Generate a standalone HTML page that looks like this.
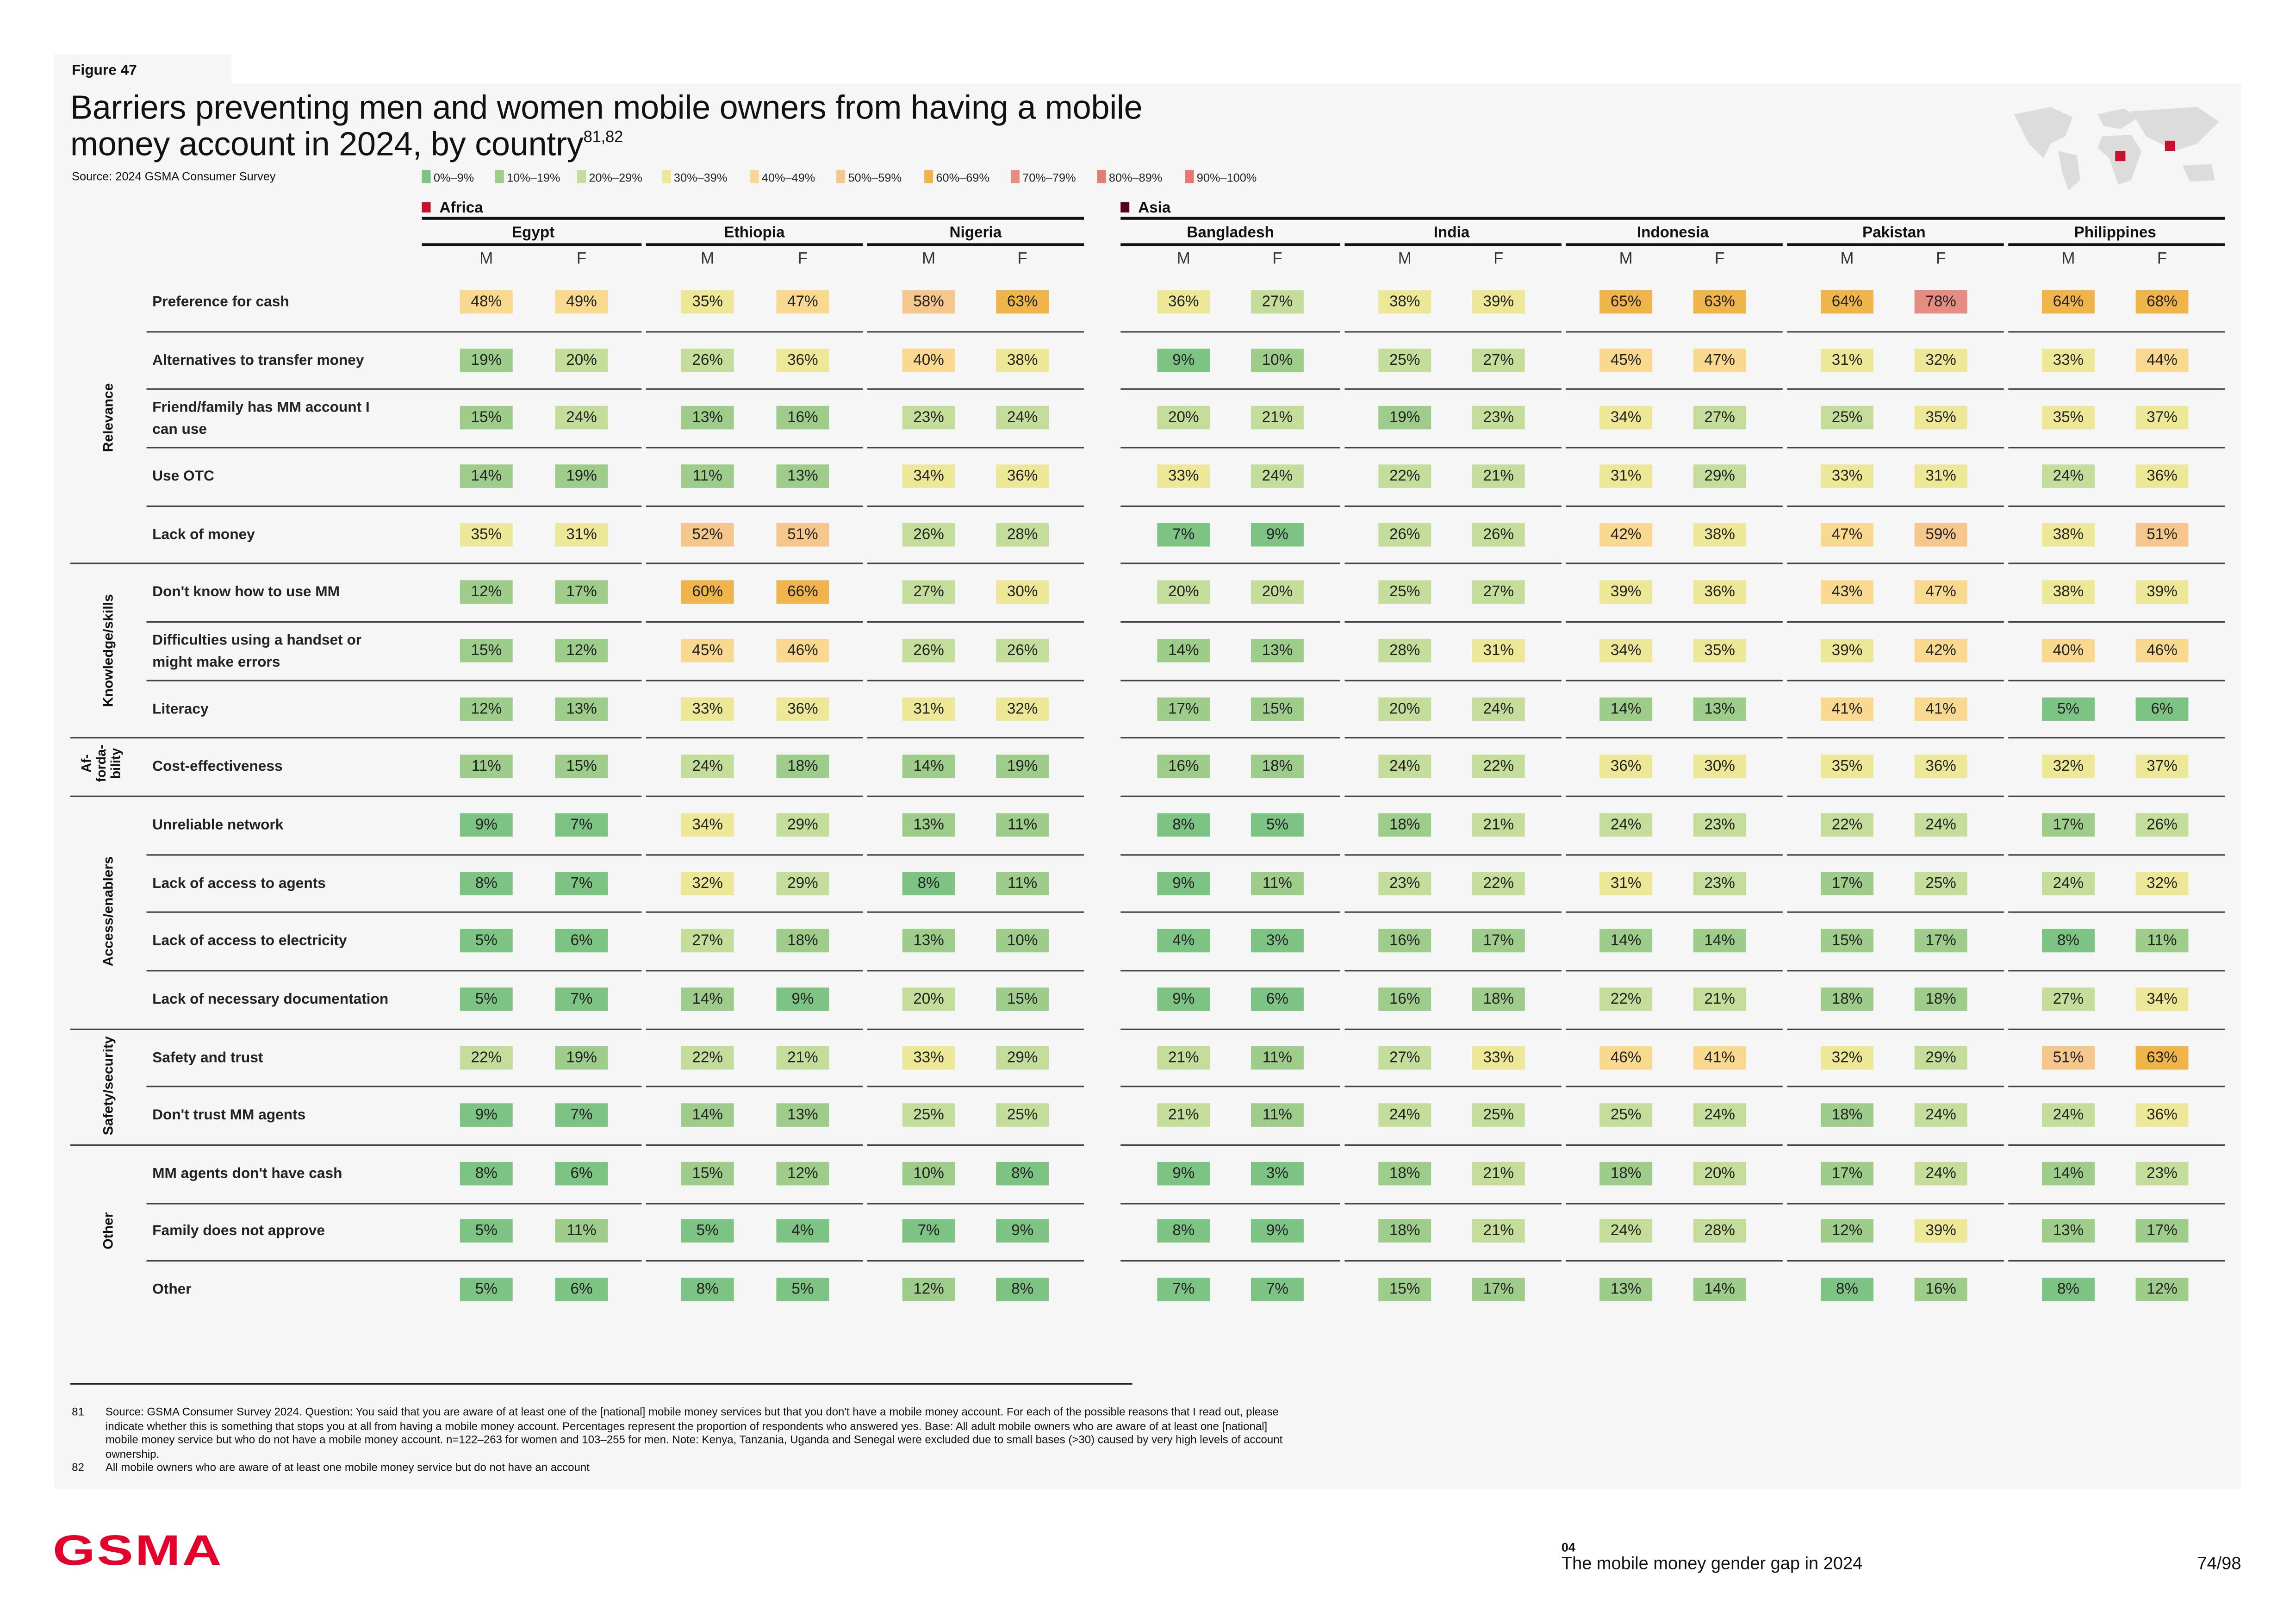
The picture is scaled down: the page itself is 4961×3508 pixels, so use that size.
<!DOCTYPE html>
<html><head><meta charset="utf-8"><style>
html,body{margin:0;padding:0;background:#fff;width:4961px;height:3508px;overflow:hidden}
#w{position:absolute;left:0;top:0;width:1559px;height:1102px;transform:scale(3.165,3.165);transform-origin:0 0;font-family:"Liberation Sans",sans-serif;color:#111}
.a{position:absolute}
.panel{position:absolute;left:37px;top:57px;width:1493px;height:959px;background:#f6f6f6}
.tab{position:absolute;left:37px;top:37px;width:121px;height:21px;background:#f6f6f6}
.r{position:absolute;left:0;width:1559px;height:0}
.r i{position:absolute;width:36px;height:16px;top:-8px;font-style:normal;font-size:10.5px;line-height:16px;text-align:center;color:#222}
.r b{position:absolute;left:104px;top:-7px;font-size:10px;font-weight:bold;color:#222;line-height:15px;white-space:nowrap}
.r b.t{top:-14px}
.k0{left:314px}.k1{left:379px}.k2{left:465px}.k3{left:530px}.k4{left:616px}.k5{left:680px}
.k6{left:790px}.k7{left:854px}.k8{left:941px}.k9{left:1005px}.k10{left:1092px}.k11{left:1156px}
.k12{left:1243px}.k13{left:1307px}.k14{left:1394px}.k15{left:1458px}
.b0{background:#7dc384}.b1{background:#9dcc8b}.b2{background:#c4dd9b}.b3{background:#ece897}
.b4{background:#f8d98f}.b5{background:#f5c78c}.b6{background:#efb54a}.b7{background:#e48d80}
.ln{position:absolute;height:1px;background:#444}
.gap{position:absolute;top:186px;height:720px;background:#f6f6f6}
.cat{position:absolute;font-size:9.5px;font-weight:bold;transform:rotate(-90deg);transform-origin:center;white-space:nowrap;text-align:center;width:140px;height:12px;line-height:12px}
.cn{position:absolute;top:153px;font-size:10.5px;font-weight:bold;text-align:center;width:150px}
.mf{position:absolute;top:171px;font-size:11px;width:20px;text-align:center;color:#333}
.lg{position:absolute;top:116px;font-size:8px;color:#222}
.lg s{display:inline-block;width:6px;height:9px;vertical-align:-1px;margin-right:2px;text-decoration:none}
</style></head><body><div id="w">
<div class="tab"></div><div class="panel"></div>
<div class="a" style="left:49px;top:43px;font-size:10px;font-weight:bold">Figure 47</div>
<div class="a" style="left:48px;top:61px;font-size:22.8px;line-height:25px;letter-spacing:-0.1px;width:820px">Barriers preventing men and women mobile owners from having a mobile<br>money account in 2024, by country<sup style="font-size:11px;line-height:0;vertical-align:9px">81,82</sup></div>
<div class="a" style="left:49px;top:116px;font-size:8px">Source: 2024 GSMA Consumer Survey</div>
<div class="lg" style="left:288px"><s class="b0"></s>0%–9%</div>
<div class="lg" style="left:338px"><s class="b1"></s>10%–19%</div>
<div class="lg" style="left:394px"><s class="b2"></s>20%–29%</div>
<div class="lg" style="left:452px"><s class="b3"></s>30%–39%</div>
<div class="lg" style="left:512px"><s class="b4"></s>40%–49%</div>
<div class="lg" style="left:571px"><s class="b5"></s>50%–59%</div>
<div class="lg" style="left:631px"><s class="b6"></s>60%–69%</div>
<div class="lg" style="left:690px"><s class="b7"></s>70%–79%</div>
<div class="lg" style="left:749px"><s style="background:#e07f77"></s>80%–89%</div>
<div class="lg" style="left:809px"><s style="background:#e8776f"></s>90%–100%</div>
<svg class="a" style="left:1370px;top:68px" width="150" height="65" viewBox="0 0 150 65">
<g fill="#dcdcdc"><path d="M5 10 L30 5 L45 12 L40 25 L30 30 L25 40 L15 30 Z"/><path d="M35 35 L48 38 L50 55 L42 62 L38 50 Z"/><path d="M62 10 L80 6 L90 12 L78 20 L66 18 Z"/><path d="M65 25 L85 24 L92 35 L85 55 L76 58 L70 40 L62 33 Z"/><path d="M85 8 L130 5 L145 15 L130 30 L115 35 L105 30 L95 25 Z"/><path d="M120 45 L140 44 L142 55 L125 56 Z"/></g>
<rect x="74" y="35" width="7" height="7" fill="#c8102e"/><rect x="108" y="28" width="7" height="7" fill="#c8102e"/>
</svg>
<div class="a" style="left:288px;top:136px;font-size:10.5px;font-weight:bold"><span style="display:inline-block;width:6px;height:7px;background:#c8102e;margin-right:6px"></span>Africa</div>
<div class="a" style="left:765px;top:136px;font-size:10.5px;font-weight:bold"><span style="display:inline-block;width:6px;height:7px;background:#5a0016;margin-right:6px"></span>Asia</div>
<div class="ln" style="left:288px;top:148px;width:452px;height:2px;background:#111"></div>
<div class="ln" style="left:765px;top:148px;width:754px;height:2px;background:#111"></div>
<div class="cn" style="left:289px">Egypt</div><div class="cn" style="left:440px">Ethiopia</div><div class="cn" style="left:591px">Nigeria</div>
<div class="cn" style="left:765px">Bangladesh</div><div class="cn" style="left:916px">India</div><div class="cn" style="left:1067px">Indonesia</div><div class="cn" style="left:1218px">Pakistan</div><div class="cn" style="left:1369px">Philippines</div>
<div class="ln" style="left:288px;top:166px;width:150px;height:1.5px;background:#111"></div>
<div class="ln" style="left:441px;top:166px;width:148px;height:1.5px;background:#111"></div>
<div class="ln" style="left:592px;top:166px;width:148px;height:1.5px;background:#111"></div>
<div class="ln" style="left:765px;top:166px;width:150px;height:1.5px;background:#111"></div>
<div class="ln" style="left:918px;top:166px;width:148px;height:1.5px;background:#111"></div>
<div class="ln" style="left:1069px;top:166px;width:148px;height:1.5px;background:#111"></div>
<div class="ln" style="left:1220px;top:166px;width:148px;height:1.5px;background:#111"></div>
<div class="ln" style="left:1371px;top:166px;width:148px;height:1.5px;background:#111"></div>
<div class="mf" style="left:322px">M</div><div class="mf" style="left:387px">F</div><div class="mf" style="left:473px">M</div><div class="mf" style="left:538px">F</div><div class="mf" style="left:624px">M</div><div class="mf" style="left:688px">F</div>
<div class="mf" style="left:798px">M</div><div class="mf" style="left:862px">F</div><div class="mf" style="left:949px">M</div><div class="mf" style="left:1013px">F</div><div class="mf" style="left:1100px">M</div><div class="mf" style="left:1164px">F</div><div class="mf" style="left:1251px">M</div><div class="mf" style="left:1315px">F</div><div class="mf" style="left:1402px">M</div><div class="mf" style="left:1466px">F</div>
<div class="ln" style="left:100px;top:226px;width:1419px"></div>
<div class="ln" style="left:100px;top:265px;width:1419px"></div>
<div class="ln" style="left:100px;top:305px;width:1419px"></div>
<div class="ln" style="left:100px;top:345px;width:1419px"></div>
<div class="ln" style="left:48px;top:384px;width:1471px"></div>
<div class="ln" style="left:100px;top:424px;width:1419px"></div>
<div class="ln" style="left:100px;top:464px;width:1419px"></div>
<div class="ln" style="left:48px;top:503px;width:1471px"></div>
<div class="ln" style="left:48px;top:543px;width:1471px"></div>
<div class="ln" style="left:100px;top:583px;width:1419px"></div>
<div class="ln" style="left:100px;top:622px;width:1419px"></div>
<div class="ln" style="left:100px;top:662px;width:1419px"></div>
<div class="ln" style="left:48px;top:702px;width:1471px"></div>
<div class="ln" style="left:100px;top:741px;width:1419px"></div>
<div class="ln" style="left:48px;top:781px;width:1471px"></div>
<div class="ln" style="left:100px;top:821px;width:1419px"></div>
<div class="ln" style="left:100px;top:860px;width:1419px"></div>
<div class="gap" style="left:438px;width:3px"></div><div class="gap" style="left:589px;width:3px"></div><div class="gap" style="left:740px;width:25px"></div><div class="gap" style="left:915px;width:3px"></div><div class="gap" style="left:1066px;width:3px"></div><div class="gap" style="left:1217px;width:3px"></div><div class="gap" style="left:1368px;width:3px"></div>
<div class="cat" style="left:5px;top:279px">Relevance</div>
<div class="cat" style="left:5px;top:438px">Knowledge/skills</div>
<div class="a" style="left:52px;top:506px;font-size:9px;font-weight:bold;line-height:10px;transform:rotate(-90deg);transform-origin:center;width:34px;text-align:center">Af-<br>forda-<br>bility</div>
<div class="cat" style="left:5px;top:616px">Access/enablers</div>
<div class="cat" style="left:5px;top:735px">Safety/security</div>
<div class="cat" style="left:5px;top:834px">Other</div>
<div class="r" style="top:206px"><b>Preference for cash</b><i class="k0 b4">48%</i><i class="k1 b4">49%</i><i class="k2 b3">35%</i><i class="k3 b4">47%</i><i class="k4 b5">58%</i><i class="k5 b6">63%</i><i class="k6 b3">36%</i><i class="k7 b2">27%</i><i class="k8 b3">38%</i><i class="k9 b3">39%</i><i class="k10 b6">65%</i><i class="k11 b6">63%</i><i class="k12 b6">64%</i><i class="k13 b7">78%</i><i class="k14 b6">64%</i><i class="k15 b6">68%</i></div>
<div class="r" style="top:246px"><b>Alternatives to transfer money</b><i class="k0 b1">19%</i><i class="k1 b2">20%</i><i class="k2 b2">26%</i><i class="k3 b3">36%</i><i class="k4 b4">40%</i><i class="k5 b3">38%</i><i class="k6 b0">9%</i><i class="k7 b1">10%</i><i class="k8 b2">25%</i><i class="k9 b2">27%</i><i class="k10 b4">45%</i><i class="k11 b4">47%</i><i class="k12 b3">31%</i><i class="k13 b3">32%</i><i class="k14 b3">33%</i><i class="k15 b4">44%</i></div>
<div class="r" style="top:285px"><b class="t">Friend/family has MM account I<br>can use</b><i class="k0 b1">15%</i><i class="k1 b2">24%</i><i class="k2 b1">13%</i><i class="k3 b1">16%</i><i class="k4 b2">23%</i><i class="k5 b2">24%</i><i class="k6 b2">20%</i><i class="k7 b2">21%</i><i class="k8 b1">19%</i><i class="k9 b2">23%</i><i class="k10 b3">34%</i><i class="k11 b2">27%</i><i class="k12 b2">25%</i><i class="k13 b3">35%</i><i class="k14 b3">35%</i><i class="k15 b3">37%</i></div>
<div class="r" style="top:325px"><b>Use OTC</b><i class="k0 b1">14%</i><i class="k1 b1">19%</i><i class="k2 b1">11%</i><i class="k3 b1">13%</i><i class="k4 b3">34%</i><i class="k5 b3">36%</i><i class="k6 b3">33%</i><i class="k7 b2">24%</i><i class="k8 b2">22%</i><i class="k9 b2">21%</i><i class="k10 b3">31%</i><i class="k11 b2">29%</i><i class="k12 b3">33%</i><i class="k13 b3">31%</i><i class="k14 b2">24%</i><i class="k15 b3">36%</i></div>
<div class="r" style="top:365px"><b>Lack of money</b><i class="k0 b3">35%</i><i class="k1 b3">31%</i><i class="k2 b5">52%</i><i class="k3 b5">51%</i><i class="k4 b2">26%</i><i class="k5 b2">28%</i><i class="k6 b0">7%</i><i class="k7 b0">9%</i><i class="k8 b2">26%</i><i class="k9 b2">26%</i><i class="k10 b4">42%</i><i class="k11 b3">38%</i><i class="k12 b4">47%</i><i class="k13 b5">59%</i><i class="k14 b3">38%</i><i class="k15 b5">51%</i></div>
<div class="r" style="top:404px"><b>Don't know how to use MM</b><i class="k0 b1">12%</i><i class="k1 b1">17%</i><i class="k2 b6">60%</i><i class="k3 b6">66%</i><i class="k4 b2">27%</i><i class="k5 b3">30%</i><i class="k6 b2">20%</i><i class="k7 b2">20%</i><i class="k8 b2">25%</i><i class="k9 b2">27%</i><i class="k10 b3">39%</i><i class="k11 b3">36%</i><i class="k12 b4">43%</i><i class="k13 b4">47%</i><i class="k14 b3">38%</i><i class="k15 b3">39%</i></div>
<div class="r" style="top:444px"><b class="t">Difficulties using a handset or<br>might make errors</b><i class="k0 b1">15%</i><i class="k1 b1">12%</i><i class="k2 b4">45%</i><i class="k3 b4">46%</i><i class="k4 b2">26%</i><i class="k5 b2">26%</i><i class="k6 b1">14%</i><i class="k7 b1">13%</i><i class="k8 b2">28%</i><i class="k9 b3">31%</i><i class="k10 b3">34%</i><i class="k11 b3">35%</i><i class="k12 b3">39%</i><i class="k13 b4">42%</i><i class="k14 b4">40%</i><i class="k15 b4">46%</i></div>
<div class="r" style="top:484px"><b>Literacy</b><i class="k0 b1">12%</i><i class="k1 b1">13%</i><i class="k2 b3">33%</i><i class="k3 b3">36%</i><i class="k4 b3">31%</i><i class="k5 b3">32%</i><i class="k6 b1">17%</i><i class="k7 b1">15%</i><i class="k8 b2">20%</i><i class="k9 b2">24%</i><i class="k10 b1">14%</i><i class="k11 b1">13%</i><i class="k12 b4">41%</i><i class="k13 b4">41%</i><i class="k14 b0">5%</i><i class="k15 b0">6%</i></div>
<div class="r" style="top:523px"><b>Cost-effectiveness</b><i class="k0 b1">11%</i><i class="k1 b1">15%</i><i class="k2 b2">24%</i><i class="k3 b1">18%</i><i class="k4 b1">14%</i><i class="k5 b1">19%</i><i class="k6 b1">16%</i><i class="k7 b1">18%</i><i class="k8 b2">24%</i><i class="k9 b2">22%</i><i class="k10 b3">36%</i><i class="k11 b3">30%</i><i class="k12 b3">35%</i><i class="k13 b3">36%</i><i class="k14 b3">32%</i><i class="k15 b3">37%</i></div>
<div class="r" style="top:563px"><b>Unreliable network</b><i class="k0 b0">9%</i><i class="k1 b0">7%</i><i class="k2 b3">34%</i><i class="k3 b2">29%</i><i class="k4 b1">13%</i><i class="k5 b1">11%</i><i class="k6 b0">8%</i><i class="k7 b0">5%</i><i class="k8 b1">18%</i><i class="k9 b2">21%</i><i class="k10 b2">24%</i><i class="k11 b2">23%</i><i class="k12 b2">22%</i><i class="k13 b2">24%</i><i class="k14 b1">17%</i><i class="k15 b2">26%</i></div>
<div class="r" style="top:603px"><b>Lack of access to agents</b><i class="k0 b0">8%</i><i class="k1 b0">7%</i><i class="k2 b3">32%</i><i class="k3 b2">29%</i><i class="k4 b0">8%</i><i class="k5 b1">11%</i><i class="k6 b0">9%</i><i class="k7 b1">11%</i><i class="k8 b2">23%</i><i class="k9 b2">22%</i><i class="k10 b3">31%</i><i class="k11 b2">23%</i><i class="k12 b1">17%</i><i class="k13 b2">25%</i><i class="k14 b2">24%</i><i class="k15 b3">32%</i></div>
<div class="r" style="top:642px"><b>Lack of access to electricity</b><i class="k0 b0">5%</i><i class="k1 b0">6%</i><i class="k2 b2">27%</i><i class="k3 b1">18%</i><i class="k4 b1">13%</i><i class="k5 b1">10%</i><i class="k6 b0">4%</i><i class="k7 b0">3%</i><i class="k8 b1">16%</i><i class="k9 b1">17%</i><i class="k10 b1">14%</i><i class="k11 b1">14%</i><i class="k12 b1">15%</i><i class="k13 b1">17%</i><i class="k14 b0">8%</i><i class="k15 b1">11%</i></div>
<div class="r" style="top:682px"><b>Lack of necessary documentation</b><i class="k0 b0">5%</i><i class="k1 b0">7%</i><i class="k2 b1">14%</i><i class="k3 b0">9%</i><i class="k4 b2">20%</i><i class="k5 b1">15%</i><i class="k6 b0">9%</i><i class="k7 b0">6%</i><i class="k8 b1">16%</i><i class="k9 b1">18%</i><i class="k10 b2">22%</i><i class="k11 b2">21%</i><i class="k12 b1">18%</i><i class="k13 b1">18%</i><i class="k14 b2">27%</i><i class="k15 b3">34%</i></div>
<div class="r" style="top:722px"><b>Safety and trust</b><i class="k0 b2">22%</i><i class="k1 b1">19%</i><i class="k2 b2">22%</i><i class="k3 b2">21%</i><i class="k4 b3">33%</i><i class="k5 b2">29%</i><i class="k6 b2">21%</i><i class="k7 b1">11%</i><i class="k8 b2">27%</i><i class="k9 b3">33%</i><i class="k10 b4">46%</i><i class="k11 b4">41%</i><i class="k12 b3">32%</i><i class="k13 b2">29%</i><i class="k14 b5">51%</i><i class="k15 b6">63%</i></div>
<div class="r" style="top:761px"><b>Don't trust MM agents</b><i class="k0 b0">9%</i><i class="k1 b0">7%</i><i class="k2 b1">14%</i><i class="k3 b1">13%</i><i class="k4 b2">25%</i><i class="k5 b2">25%</i><i class="k6 b2">21%</i><i class="k7 b1">11%</i><i class="k8 b2">24%</i><i class="k9 b2">25%</i><i class="k10 b2">25%</i><i class="k11 b2">24%</i><i class="k12 b1">18%</i><i class="k13 b2">24%</i><i class="k14 b2">24%</i><i class="k15 b3">36%</i></div>
<div class="r" style="top:801px"><b>MM agents don't have cash</b><i class="k0 b0">8%</i><i class="k1 b0">6%</i><i class="k2 b1">15%</i><i class="k3 b1">12%</i><i class="k4 b1">10%</i><i class="k5 b0">8%</i><i class="k6 b0">9%</i><i class="k7 b0">3%</i><i class="k8 b1">18%</i><i class="k9 b2">21%</i><i class="k10 b1">18%</i><i class="k11 b2">20%</i><i class="k12 b1">17%</i><i class="k13 b2">24%</i><i class="k14 b1">14%</i><i class="k15 b2">23%</i></div>
<div class="r" style="top:840px"><b>Family does not approve</b><i class="k0 b0">5%</i><i class="k1 b1">11%</i><i class="k2 b0">5%</i><i class="k3 b0">4%</i><i class="k4 b0">7%</i><i class="k5 b0">9%</i><i class="k6 b0">8%</i><i class="k7 b0">9%</i><i class="k8 b1">18%</i><i class="k9 b2">21%</i><i class="k10 b2">24%</i><i class="k11 b2">28%</i><i class="k12 b1">12%</i><i class="k13 b3">39%</i><i class="k14 b1">13%</i><i class="k15 b1">17%</i></div>
<div class="r" style="top:880px"><b>Other</b><i class="k0 b0">5%</i><i class="k1 b0">6%</i><i class="k2 b0">8%</i><i class="k3 b0">5%</i><i class="k4 b1">12%</i><i class="k5 b0">8%</i><i class="k6 b0">7%</i><i class="k7 b0">7%</i><i class="k8 b1">15%</i><i class="k9 b1">17%</i><i class="k10 b1">13%</i><i class="k11 b1">14%</i><i class="k12 b0">8%</i><i class="k13 b1">16%</i><i class="k14 b0">8%</i><i class="k15 b1">12%</i></div>
<div class="ln" style="left:48px;top:944px;width:725px;height:1px;background:#222"></div>
<div class="a" style="left:49px;top:959px;font-size:7.6px;line-height:9.5px">81</div>
<div class="a" style="left:72px;top:959px;width:815px;font-size:7.6px;line-height:9.5px">Source: GSMA Consumer Survey 2024. Question: You said that you are aware of at least one of the [national] mobile money services but that you don't have a mobile money account. For each of the possible reasons that I read out, please indicate whether this is something that stops you at all from having a mobile money account. Percentages represent the proportion of respondents who answered yes. Base: All adult mobile owners who are aware of at least one [national] mobile money service but who do not have a mobile money account. n=122–263 for women and 103–255 for men. Note: Kenya, Tanzania, Uganda and Senegal were excluded due to small bases (&gt;30) caused by very high levels of account ownership.</div>
<div class="a" style="left:49px;top:997px;font-size:7.6px">82</div>
<div class="a" style="left:72px;top:997px;font-size:7.6px">All mobile owners who are aware of at least one mobile money service but do not have an account</div>
<div class="a" style="left:36px;top:1043px;font-size:29px;font-weight:bold;color:#e4002b;letter-spacing:1px;transform:scaleX(1.28);transform-origin:0 0">GSMA</div>
<div class="a" style="left:1066px;top:1051px;font-size:8.5px;font-weight:bold">04</div>
<div class="a" style="left:1066px;top:1060px;font-size:12px">The mobile money gender gap in 2024</div>
<div class="a" style="left:1480px;top:1060px;width:50px;text-align:right;font-size:12px">74/98</div>
</div></body></html>
